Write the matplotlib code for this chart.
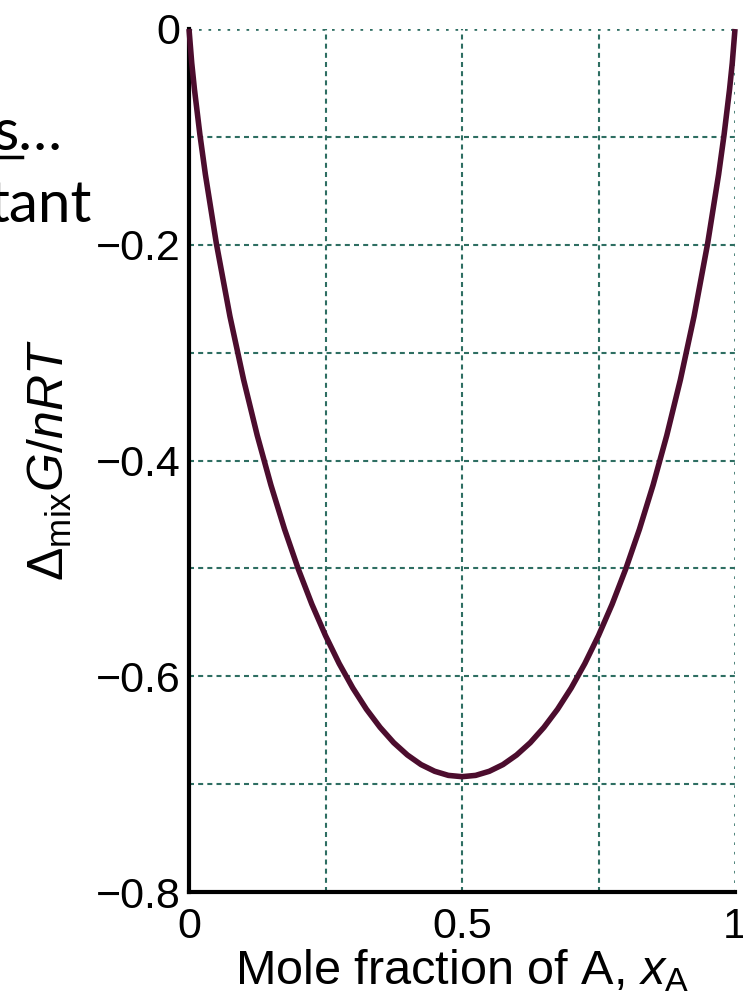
import matplotlib
matplotlib.use("Agg")
import matplotlib.pyplot as plt
from matplotlib.lines import Line2D

# Data
x_frac = [0.0, 0.005, 0.01, 0.02, 0.03, 0.05, 0.075, 0.1, 0.125, 0.15, 0.175, 0.2,
          0.225, 0.25, 0.275, 0.3, 0.325, 0.35, 0.375, 0.4, 0.425, 0.45, 0.475, 0.5,
          0.525, 0.55, 0.575, 0.6, 0.625, 0.65, 0.675, 0.7, 0.725, 0.75, 0.775, 0.8,
          0.825, 0.85, 0.875, 0.9, 0.925, 0.95, 0.97, 0.98, 0.99, 0.995, 1.0]
g_mix = [0.0, -0.0315, -0.056, -0.098, -0.1348, -0.1985, -0.2664, -0.3251, -0.3768,
         -0.4227, -0.4637, -0.5004, -0.5332, -0.5623, -0.5882, -0.6109, -0.6306,
         -0.6474, -0.6616, -0.673, -0.6819, -0.6881, -0.6919, -0.6931,
         -0.6919, -0.6881, -0.6819, -0.673, -0.6616, -0.6474, -0.6306, -0.6109,
         -0.5882, -0.5623, -0.5332, -0.5004, -0.4637, -0.4227, -0.3768, -0.3251,
         -0.2664, -0.1985, -0.1348, -0.098, -0.056, -0.0315, 0.0]
x_ticks = [0, 0.5, 1]
x_tick_labels = ["0", "0.5", "1"]
y_ticks = [0, -0.2, -0.4, -0.6, -0.8]
y_tick_labels = ["0", "\u22120.2", "\u22120.4", "\u22120.6", "\u22120.8"]
v_grid = [0.25, 0.5, 0.75]
h_grid = [-0.1, -0.2, -0.3, -0.4, -0.5, -0.6, -0.7]

plt.rcParams['font.family'] = ['Liberation Sans', 'DejaVu Sans']
plt.rcParams['mathtext.fontset'] = 'custom'
plt.rcParams['mathtext.rm'] = 'Liberation Sans'
plt.rcParams['mathtext.it'] = 'Liberation Sans:italic'

W, H = 743, 1002
fig = plt.figure(figsize=(W / 100, H / 100), dpi=100)
ax = fig.add_axes([189 / W, 1 - 892 / H, (735 - 189) / W, (892 - 29) / H])

grid_col = '#2e6e62'
for gx in v_grid:
    ax.axvline(gx, color=grid_col, lw=1.5, ls=(0, (2.4, 2.0)), zorder=1)
for gy in h_grid:
    ax.axhline(gy, color=grid_col, lw=1.5, ls=(0, (2.4, 2.0)), zorder=1)
ax.axhline(0, color=grid_col, lw=1.9, ls=(0, (1.0, 2.6)), zorder=1)
ax.axvline(1, color=grid_col, lw=1.9, ls=(0, (1.0, 2.6)), zorder=1)

ax.plot(x_frac, g_mix, color='#4c0d2e', lw=4.0, solid_capstyle='butt', zorder=3, clip_on=False)

ax.set_xlim(0, 1)
ax.set_ylim(-0.8, 0)
ax.set_xticks(x_ticks)
ax.set_xticklabels(x_tick_labels)
ax.set_yticks(y_ticks)
ax.set_yticklabels(y_tick_labels)
ax.tick_params(length=0, labelsize=31)
ax.tick_params(axis='x', pad=11)
ax.tick_params(axis='y', pad=6)
for s in ['top', 'right']:
    ax.spines[s].set_visible(False)
for s in ['left', 'bottom']:
    ax.spines[s].set_linewidth(3)
    ax.spines[s].set_color('black')

ax.set_xlabel(r'Mole fraction of A, $x_{\mathrm{A}}$', fontsize=35, labelpad=0)
ax.set_ylabel(r'$\Delta_{\mathrm{mix}}G/nRT$', fontsize=36, labelpad=16)

# remnants of slide text on the left
fig.text(62 / W, 1 - 150 / H, "s\u2026", fontsize=42, family='Lato', ha='right', va='baseline')
fig.text(92 / W, 1 - 222 / H, "tant", fontsize=42, family='Lato', ha='right', va='baseline')
fig.add_artist(Line2D([0, 22 / W], [1 - 157 / H, 1 - 157 / H], color='black', lw=2.5,
                      transform=fig.transFigure))

fig.savefig('out.png', dpi=100)
